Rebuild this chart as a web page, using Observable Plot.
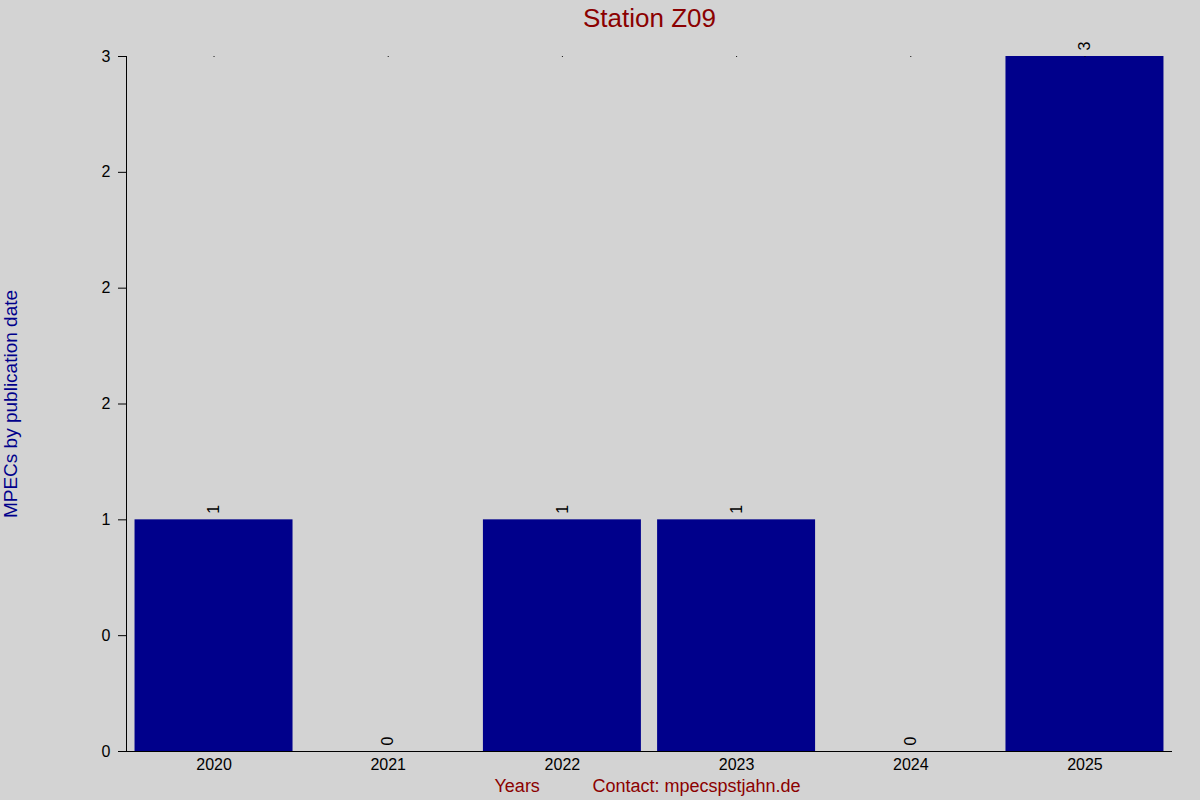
<!DOCTYPE html>
<html>
<head>
<meta charset="utf-8">
<script src="https://cdn.jsdelivr.net/npm/d3@7"></script>
<script src="https://cdn.jsdelivr.net/npm/@observablehq/plot@0.6"></script>
<style>
  html, body { margin: 0; padding: 0; background: #d3d3d3; }
  #chart svg { display: block; }
</style>
</head>
<body>
<div id="chart"></div>
<script>
const years = ["2020", "2021", "2022", "2023", "2024", "2025"];
const counts = [1, 0, 1, 1, 0, 3];
const yTickValues = [0, 0.5, 1, 1.5, 2, 2.5, 3];
const yTickLabels = ["0", "0", "1", "2", "2", "2", "3"];
const title = "Station Z09";
const yLabel = "MPECs by publication date";
const xLabel = "Years";
const contact = "Contact: mpecspstjahn.de";

const data = years.map((y, i) => ({year: y, count: counts[i]}));
const font = "'Liberation Sans', Arial, sans-serif";

const chart = Plot.plot({
  width: 1200,
  height: 800,
  marginLeft: 126,
  marginRight: 28,
  marginTop: 56,
  marginBottom: 49,
  style: {background: "#d3d3d3", fontFamily: font, fontSize: "16px", color: "black", overflow: "visible"},
  x: {type: "band", domain: years, paddingInner: 0.093, paddingOuter: 0.049, round: false, axis: null},
  y: {domain: [0, 3], axis: null},
  marks: [
    Plot.barY(data, {x: "year", y: "count", fill: "#00008b"}),
    Plot.dot(data, {x: "year", y: () => 3, r: 0.6, fill: "black", stroke: null}),
    Plot.text(data, {x: "year", y: "count", text: d => String(d.count), rotate: -90, textAnchor: "start", dy: -6, fontSize: 16, fill: "black"}),
    Plot.ruleY([0], {stroke: "black", insetLeft: -8}),
    Plot.frame({anchor: "left", stroke: "black"}),
    Plot.axisY({ticks: yTickValues, tickFormat: (d) => yTickLabels[yTickValues.indexOf(d)], tickSize: 8, tickPadding: 8, fontSize: 16, label: null}),
    Plot.axisX({tickSize: 0, tickPadding: 7, fontSize: 16, label: null}),
    Plot.text([title], {frameAnchor: "top", fontSize: 26, fill: "#8b0000", lineAnchor: "middle", dy: -38}),
    Plot.text([yLabel], {frameAnchor: "left", dx: -116, rotate: -90, textAnchor: "middle", fontSize: 19, fill: "#00008b"}),
    Plot.text([xLabel], {frameAnchor: "bottom-left", dx: 368, dy: 40, textAnchor: "start", fontSize: 18, fill: "#8b0000"}),
    Plot.text([contact], {frameAnchor: "bottom-left", dx: 466, dy: 40, textAnchor: "start", fontSize: 18, fill: "#8b0000"})
  ]
});
document.getElementById("chart").appendChild(chart);
</script>
</body>
</html>
